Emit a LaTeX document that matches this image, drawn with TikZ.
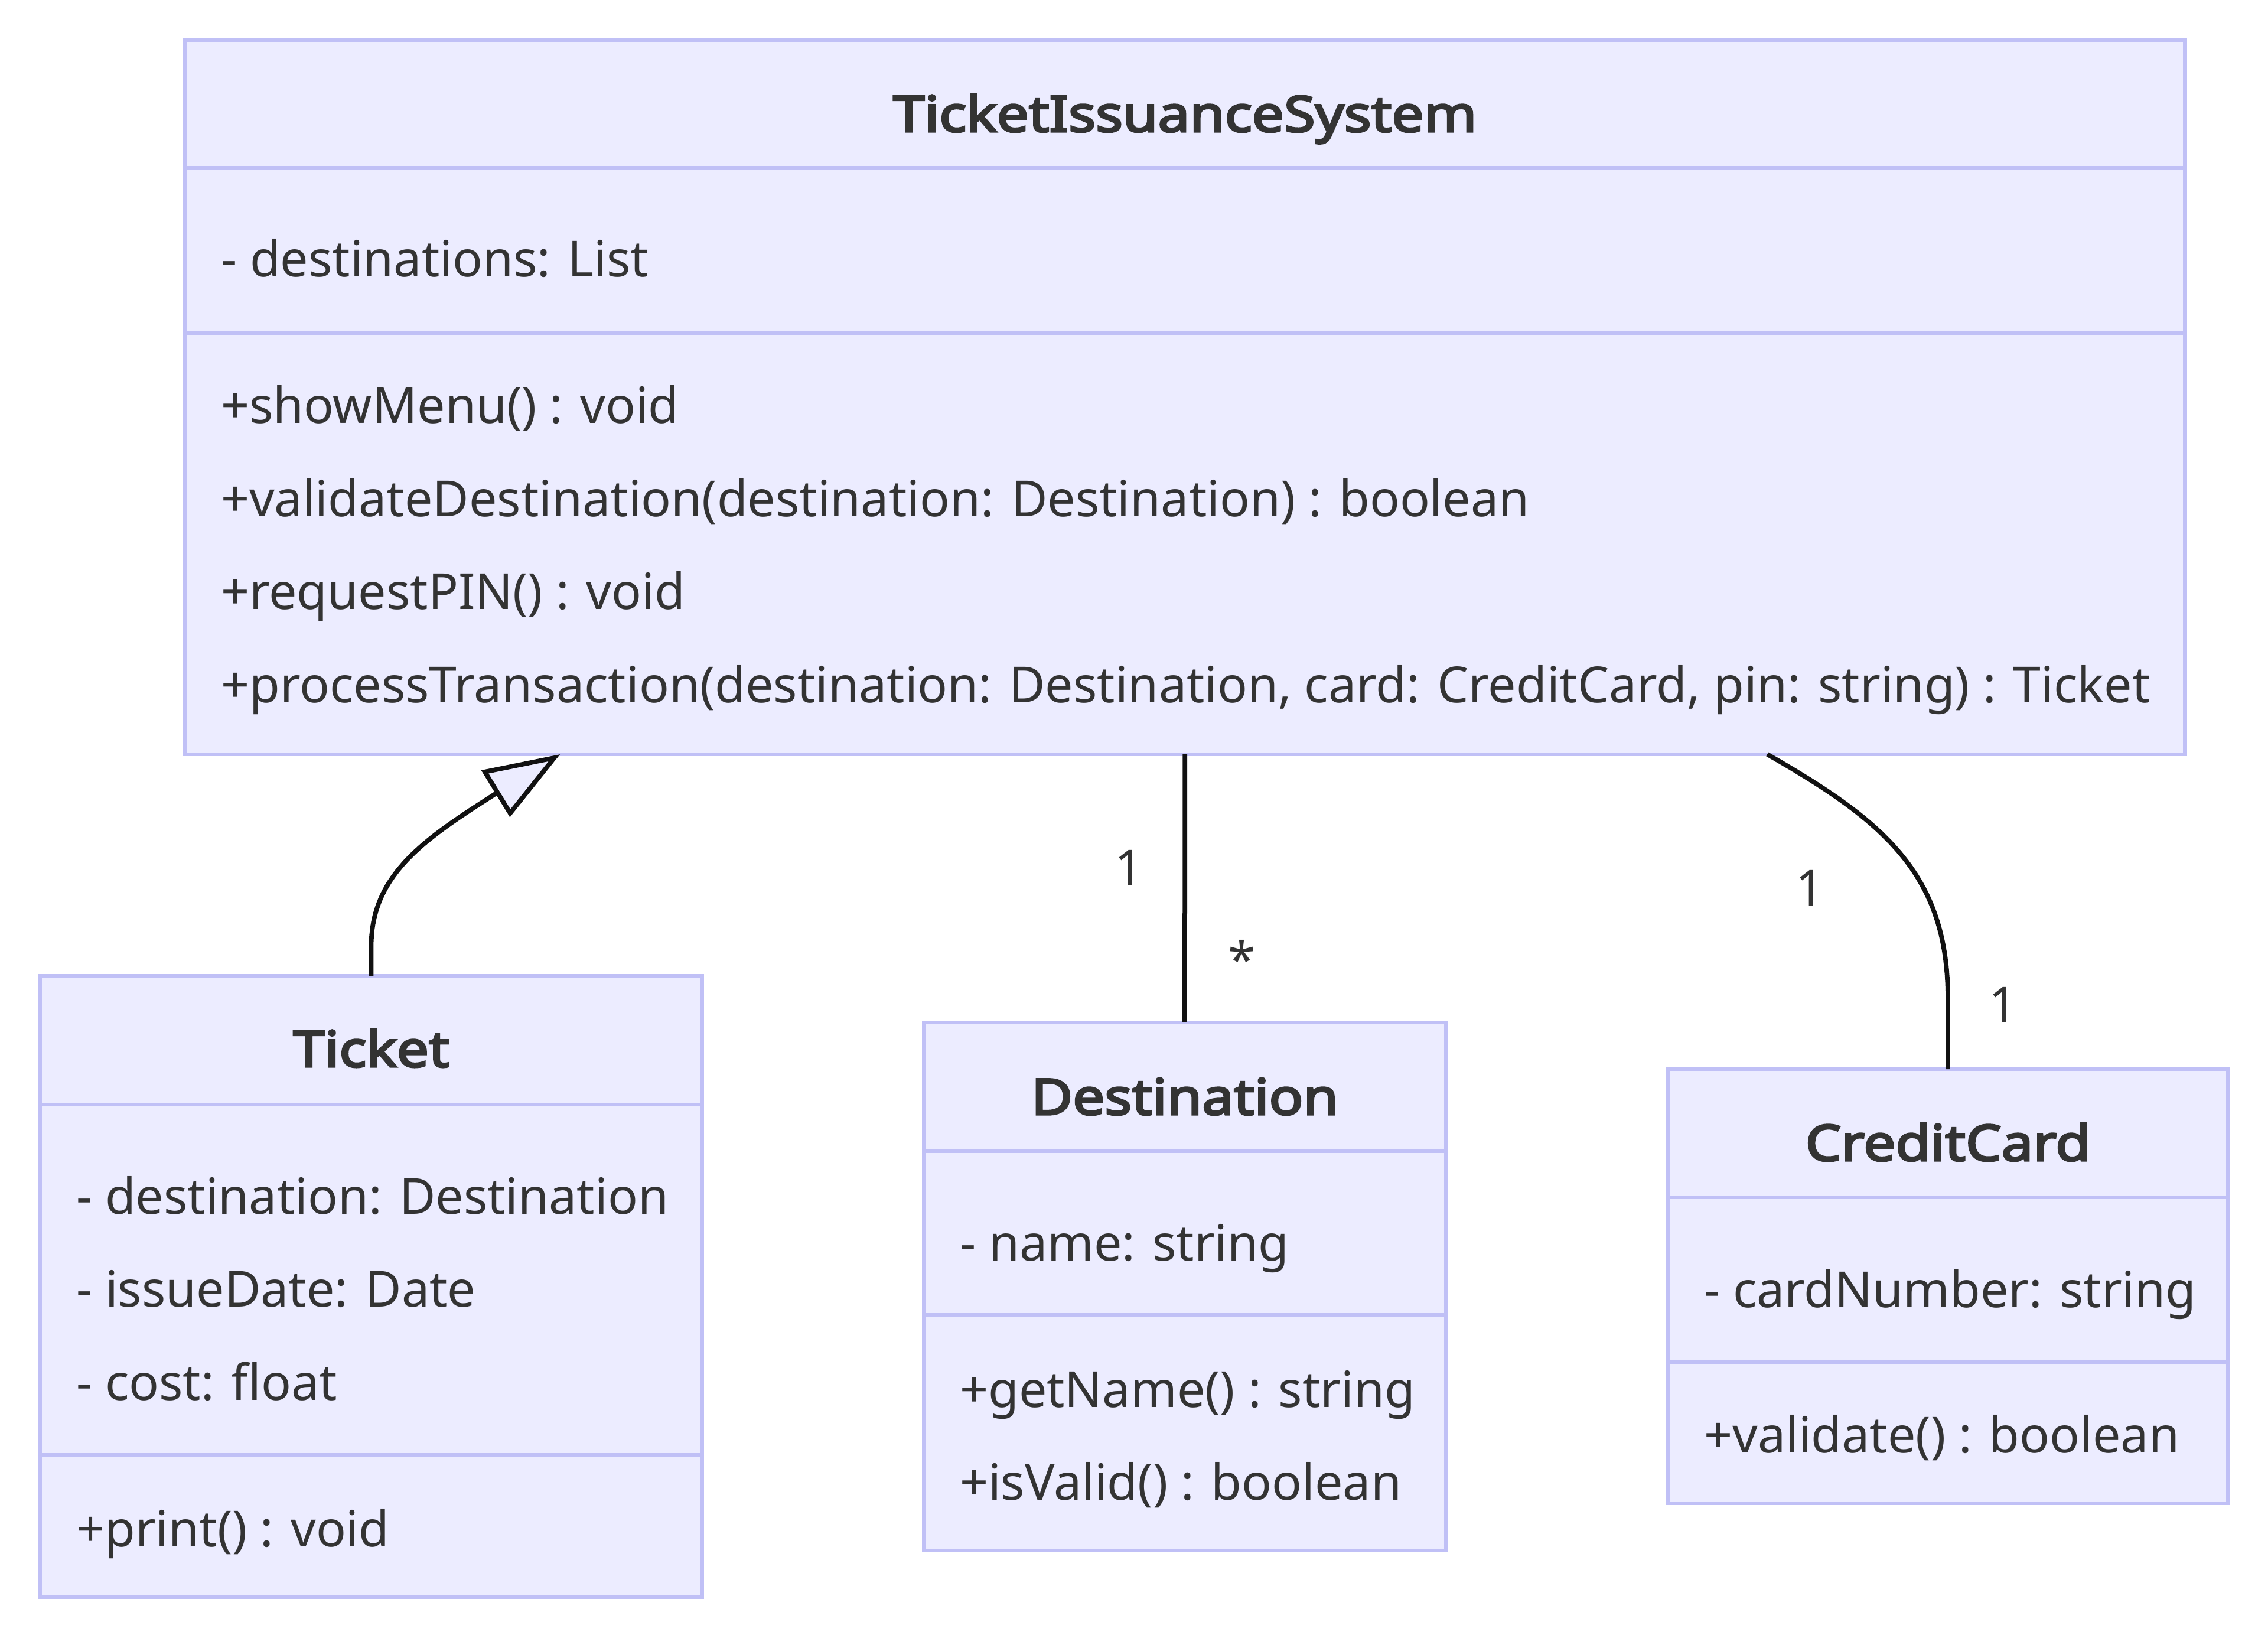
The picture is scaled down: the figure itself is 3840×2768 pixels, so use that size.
\documentclass[tikz,border=0pt]{standalone}
\usepackage{fontspec}
\setmainfont{Noto Sans}
\newfontfamily\classnamefont{Noto Sans}[FakeBold=4,FakeStretch=1.14]
\usetikzlibrary{arrows.meta}
\usetikzlibrary{calc}
\definecolor{classfill}{HTML}{ECECFF}
\definecolor{classline}{HTML}{C0C0F6}
\definecolor{textgray}{HTML}{333333}
\definecolor{relline}{HTML}{111111}
\tikzset{
    classbox/.style={
        draw=classline,
        fill=classfill,
        line width=1.3pt,
        inner sep=0pt,
        outer sep=0pt},
    divider/.style={
        draw=classline,
        line width=1.3pt},
    member/.style={
        anchor=base west,
        inner sep=0pt,
        text=textgray,
        font=\fontsize{16.85}{20}\selectfont},
    classname/.style={
        anchor=base,
        inner sep=0pt,
        text=textgray,
        font=\classnamefont\fontsize{16.85}{20}\selectfont},
    mult/.style={
        anchor=base,
        inner sep=0pt,
        text=textgray,
        font=\fontsize{16.85}{20}\selectfont},
    rel/.style={
        draw=relline,
        line width=1.55pt},
    extends/.style={
        rel,
        -{Triangle[length=25.6pt,width=18.2pt,fill=classfill]}}}

\begin{document}
\begin{tikzpicture}[x=0.2pt,y=-0.2pt]
        \useasboundingbox[fill=white] (0,0) rectangle (3840,2768);

        \node[classbox,minimum width=677.3pt,minimum height=241.8pt] (tis) at (2006.25,672.5) {};
        \node[classbox,minimum width=224.2pt,minimum height=210.4pt] (tkt) at (628.5,2178) {};
        \node[classbox,minimum width=176.8pt,minimum height=178.8pt] (dst) at (2006,2178) {};
        \node[classbox,minimum width=189.6pt,minimum height=147pt] (card) at (3298,2177.5) {};

        \draw[divider] (tis.west |- 0,284.5) -- (tis.east |- 0,284.5);
        \draw[divider] (tis.west |- 0,564) -- (tis.east |- 0,564);
        \draw[divider] (tkt.west |- 0,1870) -- (tkt.east |- 0,1870);
        \draw[divider] (tkt.west |- 0,2463) -- (tkt.east |- 0,2463);
        \draw[divider] (dst.west |- 0,1949) -- (dst.east |- 0,1949);
        \draw[divider] (dst.west |- 0,2226) -- (dst.east |- 0,2226);
        \draw[divider] (card.west |- 0,2027) -- (card.east |- 0,2027);
        \draw[divider] (card.west |- 0,2305.5) -- (card.east |- 0,2305.5);

        \node[classname] (tis-name) at (tis.north |- 0,223) {TicketIssuanceSystem};
        \node[member] (tis-a1) at (373,469) {- destinations: List};
        \node[member] (tis-m1) at (373,717) {+showMenu() : void};
        \node[member] (tis-m2) at (373,874.5) {+validateDestination(destination: Destination) : boolean};
        \node[member] (tis-m3) at (373,1032) {+requestPIN() : void};
        \node[member] (tis-m4) at (373,1190) {+processTransaction(destination: Destination, card: CreditCard, pin: string) : Ticket};

        \node[classname] (tkt-name) at (tkt.north |- 0,1806) {Ticket};
        \node[member] (tkt-a1) at (128,2055) {- destination: Destination};
        \node[member] (tkt-a2) at (128,2212) {- issueDate: Date};
        \node[member] (tkt-a3) at (128,2370) {- cost: float};
        \node[member] (tkt-m1) at (128,2618) {+print() : void};

        \node[classname] (dst-name) at (dst.north |- 0,1887) {Destination};
        \node[member] (dst-a1) at (1624,2134) {- name: string};
        \node[member] (dst-m1) at (1624,2382) {+getName() : string};
        \node[member] (dst-m2) at (1624,2539) {+isValid() : boolean};

        \node[classname] (card-name) at (card.north |- 0,1965) {CreditCard};
        \node[member] (card-a1) at (2884,2213) {- cardNumber: string};
        \node[member] (card-m1) at (2884,2459) {+validate() : boolean};

        \draw[extends] (tkt.north) -- ++(0,-50) .. controls +(0,-122) and (720,1420) .. (837,1345) -- ($(tis.south)+(-1058,0)$);
        \draw[rel] (tis.south) -- (dst.north);
        \draw[rel] ($(tis.south)+(986,0)$) .. controls (3190,1390) and (3298,1480) .. (3298,1691) -- (card.north);

        \node[mult] (dst-from) at (1912,1499) {1};
        \node[mult] (dst-to) at (2103,1655) {*};
        \node[mult] (card-from) at (3065,1533) {1};
        \node[mult] (card-to) at (3392,1731) {1};
\end{tikzpicture}
\end{document}
